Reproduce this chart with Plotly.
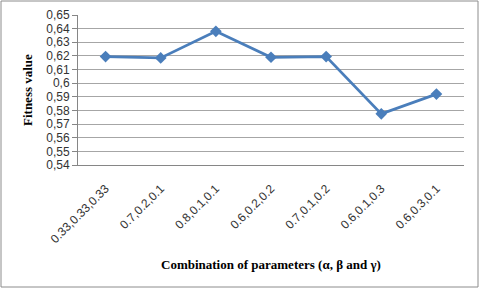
import plotly.graph_objects as go

categories = ["0.33,0.33,0.33", "0.7,0.2,0.1", "0.8,0.1,0.1", "0.6,0.2,0.2",
              "0.7,0.1,0.2", "0.6,0.1,0.3", "0.6,0.3,0.1"]
fitness = [0.6195, 0.6185, 0.638, 0.619, 0.6195, 0.5775, 0.592]
y_ticks = [0.54, 0.55, 0.56, 0.57, 0.58, 0.59, 0.60, 0.61, 0.62, 0.63, 0.64, 0.65]
y_tick_labels = ["0,54", "0,55", "0,56", "0,57", "0,58", "0,59", "0,6", "0,61",
                 "0,62", "0,63", "0,64", "0,65"]

L, R, T, B = 78, 16, 15, 124
W, H = 480, 289
pw, ph = W - L - R, H - T - B

fig = go.Figure()
fig.add_trace(go.Scatter(
    x=categories, y=fitness, mode="lines+markers",
    line=dict(color="#4A7EBB", width=2.75),
    marker=dict(symbol="diamond", size=9, color="#4A7EBB"),
    showlegend=False,
))

tick_font = dict(family="Liberation Sans, Arial", size=12, color="#333333")

fig.update_layout(
    width=W, height=H,
    margin=dict(l=L, r=R, t=T, b=B, pad=0),
    paper_bgcolor="white", plot_bgcolor="white",
    xaxis=dict(
        type="category", tickangle=-45, tickfont=tick_font, automargin=False,
        showgrid=False, showline=True, linecolor="#868686", linewidth=1,
        ticks="outside", ticklen=11, tickcolor="rgba(0,0,0,0)",
        range=[-0.5, 6.5],
    ),
    yaxis=dict(
        range=[0.54, 0.65], tickvals=y_ticks, ticktext=y_tick_labels, automargin=False,
        tickfont=tick_font, showgrid=True, gridcolor="#A6A6A6", gridwidth=1,
        showline=True, linecolor="#868686", linewidth=1,
        ticks="outside", ticklen=5, tickcolor="#868686", zeroline=False,
    ),
    shapes=[dict(
        type="rect", xref="paper", yref="paper",
        x0=(1 - L) / pw, x1=(W - 2 - L) / pw,
        y0=(T + ph - (H - 2)) / ph, y1=(T + ph - 1) / ph,
        line=dict(color="#8C8C8C", width=1), fillcolor="rgba(0,0,0,0)",
        layer="below",
    )],
    annotations=[
        dict(text="<b>Fitness value</b>", xref="paper", yref="paper",
             x=(27 - L) / pw, y=0.5, textangle=-90, showarrow=False,
             font=dict(family="Liberation Serif, Times New Roman", size=13, color="black"),
             xanchor="center", yanchor="middle"),
        dict(text="<b>Combination of parameters (α, β and γ)</b>", xref="paper", yref="paper",
             x=0.5, y=(T + ph - 264) / ph, showarrow=False,
             font=dict(family="Liberation Serif, Times New Roman", size=13, color="black"),
             xanchor="center", yanchor="middle"),
    ],
)

fig.write_html("out.html", config={"displayModeBar": False},
               post_script="document.body.style.margin='0';document.body.style.overflow='hidden';")
